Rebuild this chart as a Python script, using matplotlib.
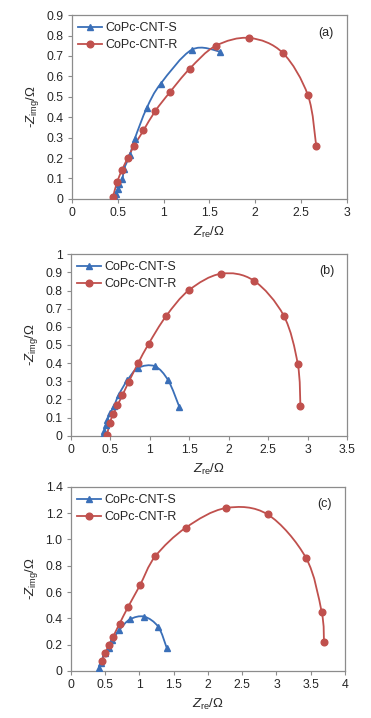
import matplotlib
matplotlib.use("Agg")
import matplotlib.pyplot as plt
from matplotlib.path import Path
from matplotlib.patches import PathPatch
import numpy as np

plt.rcParams['font.family'] = ['Liberation Sans', 'DejaVu Sans']
plt.rcParams['mathtext.fontset'] = 'custom'
plt.rcParams['mathtext.rm'] = 'Liberation Sans'
plt.rcParams['mathtext.it'] = 'Liberation Sans:italic'
plt.rcParams['mathtext.default'] = 'regular'

# ---------------- data ----------------
series_names = ["CoPc-CNT-S", "CoPc-CNT-R"]
panel_labels = ["(a)", "(b)", "(c)"]

a_S_x = [0.47, 0.48, 0.50, 0.515, 0.55, 0.57, 0.63, 0.685, 0.816, 0.968, 1.31, 1.62]
a_S_y = [0.006, 0.026, 0.049, 0.071, 0.099, 0.148, 0.213, 0.294, 0.445, 0.564, 0.731, 0.721]
a_R_x = [0.447, 0.493, 0.548, 0.606, 0.678, 0.78, 0.907, 1.066, 1.284, 1.567, 1.937, 2.30, 2.575, 2.666]
a_R_y = [0.008, 0.083, 0.143, 0.198, 0.260, 0.335, 0.429, 0.521, 0.637, 0.749, 0.788, 0.715, 0.507, 0.257]

b_S_x = [0.411, 0.424, 0.441, 0.462, 0.496, 0.547, 0.606, 0.716, 0.852, 1.064, 1.233, 1.373]
b_S_y = [0.004, 0.028, 0.057, 0.086, 0.123, 0.165, 0.226, 0.306, 0.374, 0.383, 0.305, 0.160]
b_R_x = [0.458, 0.492, 0.538, 0.589, 0.653, 0.733, 0.852, 0.987, 1.208, 1.496, 1.898, 2.314, 2.695, 2.873, 2.907]
b_R_y = [0.002, 0.070, 0.121, 0.167, 0.224, 0.297, 0.400, 0.508, 0.660, 0.802, 0.892, 0.855, 0.662, 0.396, 0.163]

c_S_x = [0.405, 0.414, 0.443, 0.496, 0.555, 0.603, 0.706, 0.861, 1.071, 1.275, 1.397]
c_S_y = [0.003, 0.025, 0.064, 0.135, 0.171, 0.232, 0.311, 0.392, 0.413, 0.336, 0.178]
c_R_x = [0.448, 0.496, 0.555, 0.618, 0.710, 0.837, 1.007, 1.231, 1.679, 2.258, 2.871, 3.431, 3.659, 3.693]
c_R_y = [0.076, 0.135, 0.194, 0.262, 0.359, 0.489, 0.650, 0.871, 1.090, 1.238, 1.190, 0.859, 0.448, 0.217]

a_xticks = [0, 0.5, 1, 1.5, 2, 2.5, 3]
a_xticklabels = ["0", "0.5", "1", "1.5", "2", "2.5", "3"]
a_yticks = [0, 0.1, 0.2, 0.3, 0.4, 0.5, 0.6, 0.7, 0.8, 0.9]
a_yticklabels = ["0", "0.1", "0.2", "0.3", "0.4", "0.5", "0.6", "0.7", "0.8", "0.9"]

b_xticks = [0, 0.5, 1, 1.5, 2, 2.5, 3, 3.5]
b_xticklabels = ["0", "0.5", "1", "1.5", "2", "2.5", "3", "3.5"]
b_yticks = [0, 0.1, 0.2, 0.3, 0.4, 0.5, 0.6, 0.7, 0.8, 0.9, 1.0]
b_yticklabels = ["0", "0.1", "0.2", "0.3", "0.4", "0.5", "0.6", "0.7", "0.8", "0.9", "1"]

c_xticks = [0, 0.5, 1, 1.5, 2, 2.5, 3, 3.5, 4]
c_xticklabels = ["0", "0.5", "1", "1.5", "2", "2.5", "3", "3.5", "4"]
c_yticks = [0, 0.2, 0.4, 0.6, 0.8, 1.0, 1.2, 1.4]
c_yticklabels = ["0", "0.2", "0.4", "0.6", "0.8", "1.0", "1.2", "1.4"]

# ---------------- style ----------------
BLUE = '#3a6fb8'
RED = '#c0504d'
FRAME = '#8c8c8c'
TXT = '#262626'


def smooth_path(xs, ys):
    """Excel-like smoothed line: cubic Bezier segments through the data points."""
    P = np.column_stack([xs, ys]).astype(float)
    n = len(P)
    verts = [P[0]]
    codes = [Path.MOVETO]
    for i in range(n - 1):
        p0 = P[i - 1] if i > 0 else P[i]
        p1 = P[i]
        p2 = P[i + 1]
        p3 = P[i + 2] if i + 2 < n else P[i + 1]
        c1 = p1 + (p2 - p0) / 6.0
        c2 = p2 - (p3 - p1) / 6.0
        verts += [c1, c2, p2]
        codes += [Path.CURVE4] * 3
    return Path(verts, codes)


fig = plt.figure(figsize=(3.71, 7.18), dpi=100)

panels = [
    ([0.194, 0.723, 0.741, 0.256], a_S_x, a_S_y, a_R_x, a_R_y, a_xticks, a_xticklabels, a_yticks, a_yticklabels, (0, 3), (0, 0.9)),
    ([0.191, 0.393, 0.745, 0.253], b_S_x, b_S_y, b_R_x, b_R_y, b_xticks, b_xticklabels, b_yticks, b_yticklabels, (0, 3.5), (0, 1.0)),
    ([0.191, 0.0655, 0.739, 0.2565], c_S_x, c_S_y, c_R_x, c_R_y, c_xticks, c_xticklabels, c_yticks, c_yticklabels, (0, 4), (0, 1.4)),
]

for k, (pos, sx, sy, rx, ry, xt, xtl, yt, ytl, xl, yl) in enumerate(panels):
    ax = fig.add_axes(pos)
    for xs, ys, col, mk, ms, name in [(sx, sy, BLUE, '^', 4.6, series_names[0]),
                                      (rx, ry, RED, 'o', 4.8, series_names[1])]:
        ax.add_patch(PathPatch(smooth_path(xs, ys), fill=False, edgecolor=col, lw=1.3, zorder=2))
        ax.plot(xs, ys, linestyle='none', marker=mk, ms=ms, color=col, zorder=3)
        ax.plot([], [], color=col, lw=1.3, marker=mk, ms=ms, label=name)
    ax.set_xlim(*xl)
    ax.set_ylim(*yl)
    ax.set_xticks(xt)
    ax.set_xticklabels(xtl)
    ax.set_yticks(yt)
    ax.set_yticklabels(ytl)
    for s in ax.spines.values():
        s.set_color(FRAME)
        s.set_linewidth(0.9)
    ax.tick_params(direction='out', length=3, width=0.8, color=FRAME,
                   labelsize=8.8, labelcolor=TXT, pad=3)
    ax.set_xlabel(r'$\it{Z}_{\rm re}/\Omega$', fontsize=9.5, labelpad=4, color=TXT)
    ax.set_ylabel(r'-$\it{Z}_{\rm img}/\Omega$', fontsize=9.5, labelpad=4, color=TXT)
    ax.text(0.925, 0.905, panel_labels[k], transform=ax.transAxes, ha='center', va='center',
            fontsize=9, color=TXT)
    ax.legend(loc='upper left', bbox_to_anchor=(0.0, 0.995), frameon=False, fontsize=9,
              handlelength=1.9, handletextpad=0.25, labelspacing=0.4, borderaxespad=0.2,
              borderpad=0.3, labelcolor=TXT)

fig.savefig('out.png', dpi=100)
